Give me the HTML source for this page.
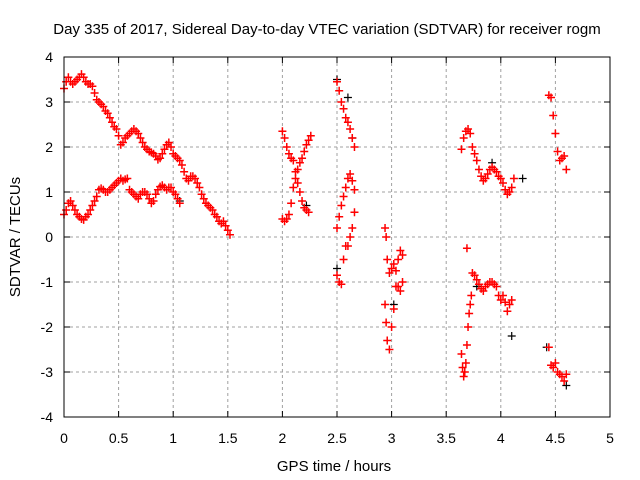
<!DOCTYPE html>
<html><head><meta charset="utf-8"><style>
body{margin:0;background:#fff}
svg{display:block;font-family:"Liberation Sans",sans-serif}
</style></head><body>
<svg id="c" width="640" height="480" viewBox="0 0 640 480">
<rect width="640" height="480" fill="#fff"/>
<text x="327" y="34" font-size="15" text-anchor="middle">Day 335 of 2017, Sidereal Day-to-day VTEC variation (SDTVAR) for receiver rogm</text>
<g id="grid"></g>
<g id="ticks"></g>
<g id="black"></g>
<g id="red"></g>
<rect x="64" y="57" width="546" height="360" fill="none" stroke="#000" stroke-width="1"/>
<text x="334" y="471" font-size="15" text-anchor="middle">GPS time / hours</text>
<text transform="translate(20,237) rotate(-90)" font-size="15" text-anchor="middle">SDTVAR / TECUs</text>
</svg>
<script>
const xTicks=[0,0.5,1,1.5,2,2.5,3,3.5,4,4.5,5];
const xTickLabels=["0","0.5","1","1.5","2","2.5","3","3.5","4","4.5","5"];
const yTicks=[-4,-3,-2,-1,0,1,2,3,4];
const yTickLabels=["-4","-3","-2","-1","0","1","2","3","4"];

const tA=[0,.02,.04,.06,.08,.1,.12,.14,.16,.18,.2,.22,.24,.26,.28,.3,.32,.34,.36,.38,.4,.42,.44,.46,.48,.5,.52,.54,.56,.58,.6,.62,.64,.66,.68,.7,.72,.74,.76,.78,.8,.82,.84,.86,.88,.9,.92,.94,.96,.98,1,1.02,1.04,1.06,1.08,1.1,1.12,1.14,1.16,1.18,1.2,1.22,1.24,1.26,1.28,1.3,1.32,1.34,1.36,1.38,1.4,1.42,1.44,1.46,1.48,1.5,1.52];
const vA=[3.3,3.45,3.55,3.45,3.4,3.45,3.5,3.55,3.62,3.55,3.45,3.4,3.4,3.35,3.2,3.05,3.0,2.95,2.9,2.8,2.75,2.65,2.55,2.45,2.4,2.25,2.05,2.1,2.2,2.25,2.3,2.35,2.4,2.35,2.3,2.2,2.1,2.0,1.95,1.9,1.88,1.85,1.8,1.72,1.75,1.85,1.95,2.05,2.1,2.0,1.85,1.8,1.75,1.7,1.6,1.45,1.3,1.25,1.35,1.35,1.3,1.2,1.1,0.95,0.85,0.75,0.7,0.65,0.6,0.5,0.45,0.35,0.3,0.35,0.25,0.15,0.05];
const tB=[0,.02,.04,.06,.08,.1,.12,.14,.16,.18,.2,.22,.24,.26,.28,.3,.32,.34,.36,.38,.4,.42,.44,.46,.48,.5,.52,.54,.56,.58,.6,.62,.64,.66,.68,.7,.72,.74,.76,.78,.8,.82,.84,.86,.88,.9,.92,.94,.96,.98,1,1.02,1.04,1.06];
const vB=[0.5,0.6,0.75,0.8,0.7,0.6,0.5,0.45,0.4,0.38,0.45,0.5,0.6,0.7,0.8,0.9,1.05,1.08,1.05,1.0,1.0,1.05,1.1,1.15,1.2,1.25,1.3,1.25,1.28,1.3,1.05,1.0,0.95,0.9,0.85,0.95,1.0,1.0,0.95,0.85,0.75,0.8,0.95,1.05,1.12,1.15,1.1,1.05,1.1,1.1,1.0,0.95,0.85,0.75];
const tC1=[2.0,2.02,2.04,2.06,2.08,2.1,2.12,2.14,2.16,2.18,2.2,2.22,2.24];
const vC1=[2.35,2.2,2.0,1.85,1.75,1.7,1.45,1.2,1.0,0.8,0.65,0.6,0.55];
const tC2=[2.0,2.02,2.04,2.06,2.08,2.1,2.12,2.14,2.16,2.18,2.2,2.22,2.24,2.26];
const vC2=[0.4,0.35,0.4,0.5,0.75,1.1,1.3,1.5,1.65,1.75,1.9,2.05,2.15,2.25];
const tD=[2.5,2.52,2.54,2.56,2.58,2.6,2.62,2.64,2.66];
const vD1=[3.45,3.25,3.0,2.85,2.65,2.55,2.4,2.2,2.0];
const vD2=[0.2,0.45,0.7,0.9,1.1,1.3,1.4,1.25,1.05];
const vD3=[-0.85,-1.0,-1.05,-0.5,-0.2,-0.2,0.0,0.2,0.55];
const tE=[2.94,2.95,2.96,2.98,3.0,3.02,3.04,3.06,3.08,3.1];
const vE1=[0.2,0.0,-0.5,-0.8,-0.7,-0.6,-0.75,-1.1,-1.2,-1.0];
const vE2=[-1.5,-1.9,-2.3,-2.5,-2.0,-1.6,-1.1,-0.5,-0.3,-0.4];
const tF1=[3.64,3.66,3.68,3.7,3.72,3.74,3.76,3.78,3.8,3.82,3.84,3.86,3.88,3.9,3.92,3.94,3.96,3.98,4.0,4.02,4.04,4.06,4.08,4.1,4.12];
const vF1=[1.95,2.2,2.35,2.4,2.3,2.0,1.85,1.7,1.5,1.35,1.25,1.3,1.4,1.5,1.55,1.5,1.45,1.35,1.3,1.2,1.05,0.95,1.0,1.1,1.3];
const tF2=[3.69,3.74,3.76,3.78,3.8,3.82,3.84,3.86,3.88,3.9,3.92,3.94,3.96,3.98,4.0,4.02,4.04,4.06,4.08,4.1];
const vF2=[-0.25,-0.8,-0.85,-0.95,-1.05,-1.15,-1.2,-1.1,-1.05,-1.0,-1.0,-1.05,-1.1,-1.3,-1.4,-1.3,-1.45,-1.65,-1.5,-1.4];
const tF3=[3.64,3.65,3.66,3.67,3.68,3.69,3.7,3.71,3.72,3.73];
const vF3=[-2.6,-2.9,-3.1,-3.0,-2.8,-2.4,-2.0,-1.7,-1.5,-1.3];
const tG=[4.44,4.46,4.48,4.5,4.52,4.54,4.56,4.58,4.6];
const vG1=[3.15,3.1,2.7,2.3,1.9,1.7,1.75,1.8,1.5];
const vG2=[-2.45,-2.85,-2.9,-2.8,-3.0,-3.05,-3.1,-3.2,-3.05];
const tBlack=[2.5,2.6,2.5,3.92,4.1,4.42,4.6,1.06,3.78,2.22,4.2,2.64,3.02];
const vBlack=[3.5,3.1,-0.7,1.65,-2.2,-2.45,-3.3,0.8,-1.1,0.7,1.3,2.2,-1.5];

const NS="http://www.w3.org/2000/svg";
const X=t=>64+t*109.2;
const Y=v=>237-v*45;
function mk(tag,parent){const e=document.createElementNS(NS,tag);parent.appendChild(e);return e;}
const grid=document.getElementById('grid'),ticks=document.getElementById('ticks');
xTicks.forEach((t,i)=>{
  const x=X(t);
  if(i>0&&i<xTicks.length-1){const g=mk('line',grid);
  
  
  g.setAttribute('x1',x);g.setAttribute('x2',x);g.setAttribute('y1',57);g.setAttribute('y2',417);g.setAttribute('stroke','#a0a0a0');g.setAttribute('stroke-dasharray','3,3');}
  const tk=mk('path',ticks);
  
  
  tk.setAttribute('d',`M${x},417v-6M${x},57v6`);tk.setAttribute('stroke','#000');
  const l=mk('text',ticks);
  
  
  l.setAttribute('x',x);l.setAttribute('y',443);l.setAttribute('font-size','14');l.setAttribute('text-anchor','middle');l.textContent=xTickLabels[i];
});
yTicks.forEach((v,i)=>{
  const y=Y(v);
  if(i>0&&i<yTicks.length-1){const g=mk('line',grid);
  
  
  g.setAttribute('x1',64);g.setAttribute('x2',610);g.setAttribute('y1',y);g.setAttribute('y2',y);g.setAttribute('stroke','#a0a0a0');g.setAttribute('stroke-dasharray','3,3');}
  const tk=mk('path',ticks);
  
  
  tk.setAttribute('d',`M64,${y}h6M610,${y}h-6`);tk.setAttribute('stroke','#000');
  const l=mk('text',ticks);
  
  
  l.setAttribute('x',53);l.setAttribute('y',y+5);l.setAttribute('font-size','14');l.setAttribute('text-anchor','end');l.textContent=yTickLabels[i];
});
function plus(g,ts,vs,color,w){
  let d='';
  ts.forEach((t,i)=>{const x=X(t),y=Y(vs[i]);d+=`M${x-4},${y}h8M${x},${y-4}v8`;});
  const p=mk('path',g);
  
  
  p.setAttribute('d',d);p.setAttribute('stroke',color);p.setAttribute('stroke-width',w);p.setAttribute('fill','none');
}
const blk=document.getElementById('black'),red=document.getElementById('red');
plus(blk,tBlack,vBlack,'#000','1.2');
[[tA,vA],[tB,vB],[tC1,vC1],[tC2,vC2],[tD,vD1],[tD,vD2],[tD,vD3],[tE,vE1],[tE,vE2],[tF1,vF1],[tF2,vF2],[tF3,vF3],[tG,vG1],[tG,vG2]].forEach(s=>plus(red,s[0],s[1],'#f00','1.5'));
</script>
</body></html>
